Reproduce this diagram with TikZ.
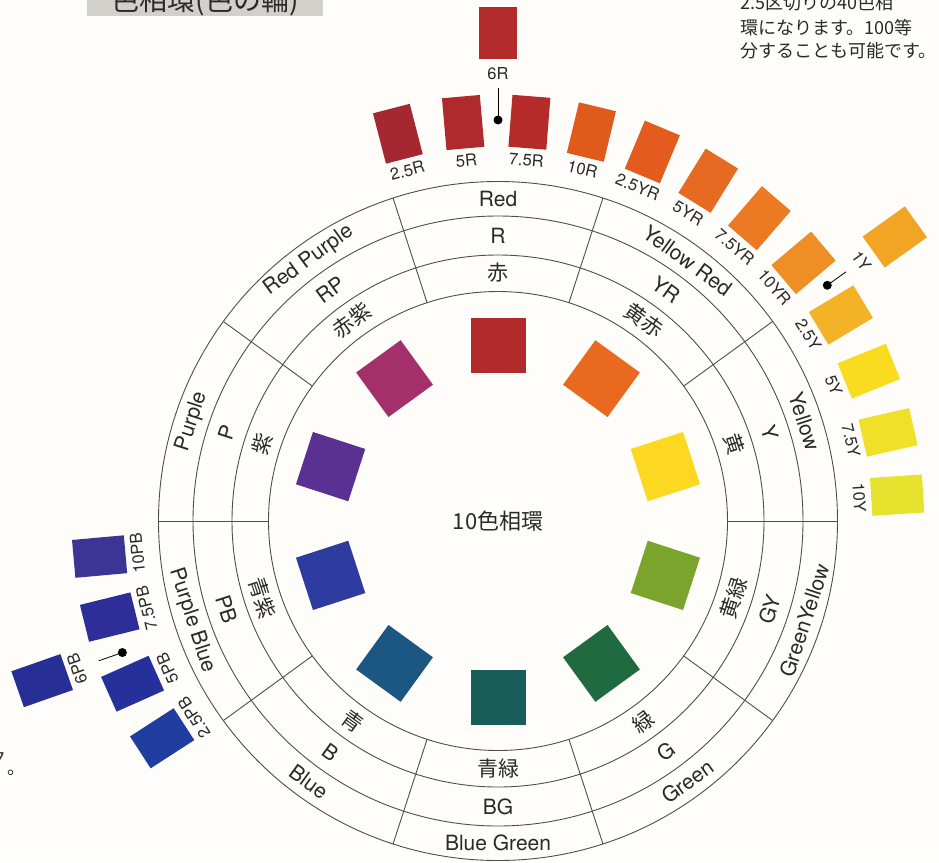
\documentclass[tikz,border=0pt]{standalone}
\usepackage{fontspec}
\setmainfont{TeX Gyre Heros}
\newfontfamily\jp{Noto Sans CJK JP}
\usetikzlibrary{calc}
\definecolor{bgc}{HTML}{FEFDFA}
\definecolor{ringc}{HTML}{4E4E4E}
\definecolor{txtc}{HTML}{2A2A2A}
\definecolor{titlec}{HTML}{D1D0CB}
% inner squares
\definecolor{iR}{HTML}{B12B2D}
\definecolor{iYR}{HTML}{E96A1E}
\definecolor{iY}{HTML}{FCD920}
\definecolor{iGY}{HTML}{7BA42C}
\definecolor{iG}{HTML}{1F6A3F}
\definecolor{iBG}{HTML}{195D5B}
\definecolor{iB}{HTML}{1C5683}
\definecolor{iPB}{HTML}{2E3B9F}
\definecolor{iP}{HTML}{5A3192}
\definecolor{iRP}{HTML}{A3306B}
% outer swatches
\definecolor{sA}{HTML}{A5272F}
\definecolor{sB}{HTML}{AE2A2C}
\definecolor{sC}{HTML}{B52B29}
\definecolor{sX}{HTML}{B32B2A}
\definecolor{sD}{HTML}{E05A1C}
\definecolor{sE}{HTML}{E35B1D}
\definecolor{sF}{HTML}{E66A21}
\definecolor{sG}{HTML}{EB7A23}
\definecolor{sH}{HTML}{EE8E25}
\definecolor{sY}{HTML}{F2A424}
\definecolor{sI}{HTML}{F4B226}
\definecolor{sJ}{HTML}{FADC1F}
\definecolor{sK}{HTML}{F0E02A}
\definecolor{sL}{HTML}{E6E22E}
\definecolor{sM}{HTML}{3C3596}
\definecolor{sN}{HTML}{2D2E97}
\definecolor{sZ}{HTML}{272F97}
\definecolor{sO}{HTML}{26309B}
\definecolor{sP}{HTML}{1F3EA0}
\tikzset{
  ringline/.style={draw=ringc, line width=0.9pt},
  ringtxt/.style={inner sep=0pt, font=\fontsize{21}{21}\selectfont, text=txtc},
  kjtxt/.style={inner sep=0pt, font=\jp\fontsize{21}{21}\selectfont, text=txtc},
  sqbox/.style={minimum width=55pt, minimum height=55pt, inner sep=0pt},
  swatch/.style={minimum width=38pt, minimum height=52pt, inner sep=0pt},
  swlabel/.style={inner sep=0pt, font=\fontsize{16.5}{16.5}\selectfont, text=txtc},
  pindot/.style={circle, fill=black, inner sep=0pt, minimum size=9pt},
  pinline/.style={draw=black, line width=0.8pt},
  jptext/.style={inner sep=0pt, font=\jp\fontsize{18}{18}\selectfont, text=txtc, anchor=west},
}
\begin{document}
\begin{tikzpicture}[x=1pt,y=1pt]
\fill[bgc] (0,0) rectangle (939,-862);
\useasboundingbox (0,0) rectangle (939,-862);

% title box (cut off at top)
\fill[titlec] (87,0) rectangle (323,-16);
\node[inner sep=0pt, anchor=base, font=\jp\fontsize{28}{28}\selectfont, text=txtc] (title) at (205,-10) {色相環(色の輪)};

% top-right note (partly cut off)
\node[jptext] (note1) at (740,-3) {2.5区切りの40色相};
\node[jptext] (note2) at (740,-28) {環になります。100等};
\node[jptext] (note3) at (740,-51) {分することも可能です。};

% bottom-left fragments
\node[jptext, anchor=center] (frag1) at (-2,-758) {ク};
\node[jptext, anchor=center] (frag2) at (16,-773) {。};

\begin{scope}[shift={(498,-521)}]
  % rings
  \foreach \r [count=\i] in {229.5,266,305,339.5}
    \draw[ringline] (0,0) circle (\r);
  \foreach \a in {108,72,36,0,-36,-72,-108,-144,180,144}
    \draw[ringline] (\a:229.5) -- (\a:339.5);

  % ring labels
  \foreach \a/\en/\ab/\kj [count=\i] in {90/Red/R/赤, 54/Yellow Red/YR/黄赤, 18/Yellow/Y/黄, -18/GreenYellow/GY/黄緑, -54/Green/G/緑, -90/Blue Green/BG/青緑, -126/Blue/B/青, -162/Purple Blue/PB/青紫, 162/Purple/P/紫, 126/Red Purple/RP/赤紫}{
    \pgfmathsetmacro{\rot}{\a>0 ? \a-90 : \a+90}
    \node[ringtxt, rotate=\rot] (en\i) at (\a:322) {\en};
    \node[ringtxt, rotate=\rot] (ab\i) at (\a:285.5) {\ab};
    \node[kjtxt, rotate=\rot] (kj\i) at (\a:248) {\kj};
  }

  % inner squares
  \foreach \a/\c [count=\i] in {90/iR, 54/iYR, 18/iY, -18/iGY, -54/iG, -90/iBG, -126/iB, -162/iPB, 162/iP, 126/iRP}
    \node[sqbox, fill=\c, rotate=\a-90] (sq\i) at (\a:176) {};

  % centre title
  \node[inner sep=0pt, font=\jp\fontsize{22}{22}\selectfont, text=txtc] (centre) at (0,0) {10色相環};

  % 40-hue swatches
  \foreach \a/\c/\t [count=\i] in {104.5/sA/2.5R, 95/sB/5R, 85.5/sC/7.5R, 76.5/sD/10R, 67.3/sE/2.5YR, 58.3/sF/5YR, 49.2/sG/7.5YR, 40.2/sH/10YR, 31/sI/2.5Y, 22/sJ/5Y, 12.8/sK/7.5Y, 3.7/sL/10Y, 185.1/sM/10PB, 193.9/sN/7.5PB, 204/sO/5PB, 212.9/sP/2.5PB}{
    \node[swatch, fill=\c, rotate=\a-90] (sw\i) at (\a:400) {};
    \node[swlabel, rotate=\a-90] (swl\i) at (\a:362) {\t};
  }

  % intermediate hues with pins
  \foreach \a/\c/\t/\rr/\rd/\re/\rl [count=\i] in {90/sX/6R/488/401/433/447, 35.6/sY/1Y/488/405/428/447, 199.3/sZ/6PB/483/398/423/446}{
    \node[swatch, fill=\c, rotate=\a-90] (ex\i) at (\a:\rr) {};
    \node[swlabel, rotate=\a-90] (exl\i) at (\a:\rl) {\t};
    \node[pindot] (pd\i) at (\a:\rd) {};
    \coordinate (pe\i) at (\a:\re);
    \draw[pinline] (pd\i.center) -- (pe\i);
  }
\end{scope}
\end{tikzpicture}
\end{document}
